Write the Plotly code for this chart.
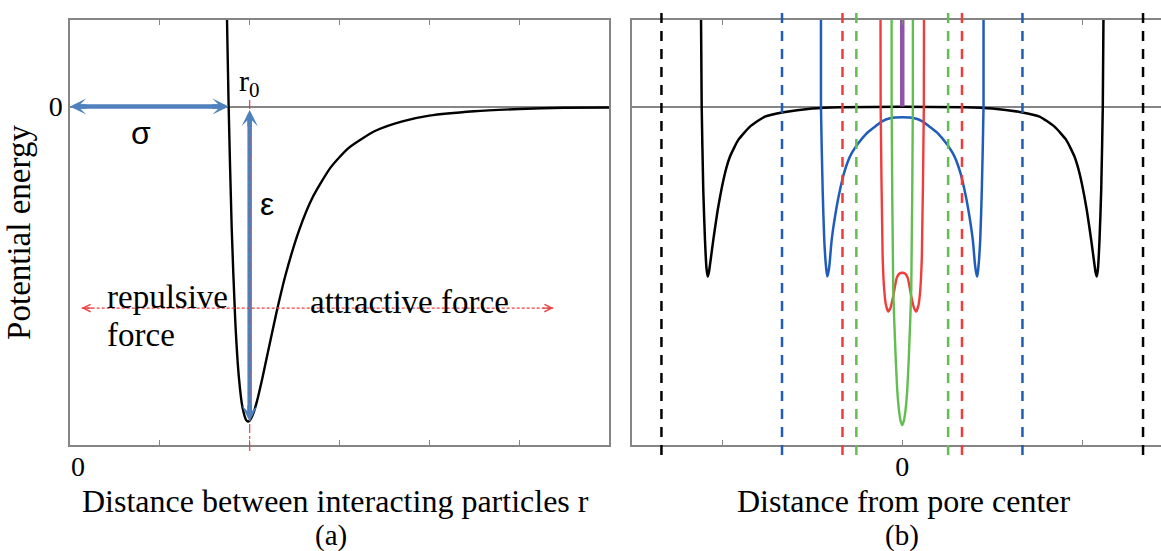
import plotly.graph_objects as go

W, H = 1161, 551

# ---------------- Panel (a): pair potential ----------------
r_a = [1.70, 1.74, 1.766, 1.80, 1.84, 1.88, 1.92, 1.96, 1.98, 2.00, 2.04, 2.08, 2.14,
       2.20, 2.30, 2.40, 2.55, 2.70, 2.90, 3.10, 3.40, 3.70, 4.00, 4.50, 5.00, 5.50, 6.00]
v_a = [1.290, 0.407, 0.0, -0.386, -0.683, -0.860, -0.955, -0.995, -1.000, -0.997, -0.975,
       -0.937, -0.864, -0.784, -0.652, -0.534, -0.393, -0.289, -0.194, -0.132, -0.077,
       -0.047, -0.029, -0.015, -0.008, -0.004, -0.003]

sigma_r = 1.766      # zero crossing
r0 = 2.0             # minimum position
eps_depth = -1.0     # well depth
force_y = -0.64      # level of the force arrow
force_x = [0.13, 5.38]

# ---------------- Panel (b): potentials in pores of different width ----------------
x_black = [-1.119, -1.1144, -1.1056, -1.0961, -1.0875, -1.0811, -1.0740, -1.0683, -1.050,
           -1.0222, -0.985, -0.957, -0.911, -0.846, -0.763, -0.66, -0.50, -0.346, 0.0,
           0.346, 0.50, 0.66, 0.763, 0.846, 0.911, 0.957, 0.985, 1.0222, 1.050, 1.0683,
           1.0740, 1.0811, 1.0875, 1.0961, 1.1056, 1.1144, 1.119]
y_black = [0.35, 0.0, -0.265, -0.424, -0.515, -0.540, -0.525, -0.503, -0.424,
           -0.318, -0.212, -0.159, -0.106, -0.064, -0.032, -0.018, -0.006, -0.002, -0.001,
           -0.002, -0.006, -0.018, -0.032, -0.064, -0.106, -0.159, -0.212, -0.318, -0.424, -0.503,
           -0.525, -0.540, -0.515, -0.424, -0.265, 0.0, 0.35]

x_blue = [-0.4517, -0.4517, -0.4422, -0.4333, -0.4225, -0.4167, -0.4100, -0.4044, -0.3922,
          -0.3644, -0.3461, -0.3239, -0.2906, -0.2444, -0.1978, -0.1517, -0.1144, -0.0683, 0.0,
          0.0683, 0.1144, 0.1517, 0.1978, 0.2444, 0.2906, 0.3239, 0.3461, 0.3644,
          0.3922, 0.4044, 0.4100, 0.4167, 0.4225, 0.4333, 0.4422, 0.4517, 0.4517]
y_blue = [0.35, 0.0, -0.265, -0.424, -0.515, -0.540, -0.525, -0.503, -0.424,
          -0.318, -0.265, -0.212, -0.159, -0.117, -0.085, -0.064, -0.048, -0.0375, -0.0343,
          -0.0375, -0.048, -0.064, -0.085, -0.117, -0.159, -0.212, -0.265, -0.318,
          -0.424, -0.503, -0.525, -0.540, -0.515, -0.424, -0.265, 0.0, 0.35]

x_red = [-0.121, -0.120, -0.1089, -0.100, -0.0906, -0.0778, -0.0656, -0.050, -0.031, -0.017, 0.0,
         0.017, 0.031, 0.050, 0.0656, 0.0778, 0.0906, 0.100, 0.1089, 0.120, 0.121]
y_red = [0.35, 0.0, -0.477, -0.583, -0.630, -0.651, -0.640, -0.602, -0.545, -0.531, -0.528,
         -0.531, -0.545, -0.602, -0.640, -0.651, -0.630, -0.583, -0.477, 0.0, 0.35]

x_green = [-0.0593, -0.0589, -0.050, -0.0367, -0.0278, -0.0183, -0.009, 0.0,
           0.009, 0.0183, 0.0278, 0.0367, 0.050, 0.0589, 0.0593]
y_green = [0.35, 0.0, -0.583, -0.794, -0.900, -0.963, -0.998, -1.011,
           -0.998, -0.963, -0.900, -0.794, -0.583, 0.0, 0.35]

x_purple = [0.0, 0.0]
y_purple = [0.35, 0.0]

# pore wall positions (dashed lines), one pair per pore
walls_black = [-1.338, 1.338]
walls_blue = [-0.668, 0.668]
walls_red = [-0.332, 0.332]
walls_green = [-0.255, 0.255]

# tick positions and labels
ticks_a = [0, 1, 2, 3, 4, 5]
ticklabels_a = ['0', '', '', '', '', '']
ticks_b = [-1, 0, 1]
ticklabels_b = ['', '0', '']

# ---------------- styles ----------------
C_AX = '#858585'
C_BLUE_ARROW = '#4F81BD'
C_RED_ANN = 'rgb(236,64,64)'
C_BLACK = 'black'
C_BLUE = 'rgb(32,92,186)'
C_RED = 'rgb(240,60,60)'
C_GREEN = 'rgb(98,190,80)'
C_PURPLE = 'rgb(142,84,170)'
SERIF = 'Liberation Serif'
SANS = 'Liberation Sans'

fig = go.Figure()

fig.add_trace(go.Scatter(x=r_a, y=v_a, mode='lines', xaxis='x', yaxis='y',
                         line=dict(color=C_BLACK, width=2.4, shape='spline', smoothing=0.6),
                         showlegend=False, hoverinfo='skip'))

for xs, ys, col, w in [(x_black, y_black, C_BLACK, 2.5), (x_blue, y_blue, C_BLUE, 2.5),
                       (x_red, y_red, C_RED, 2.4), (x_green, y_green, C_GREEN, 2.4)]:
    fig.add_trace(go.Scatter(x=xs, y=ys, mode='lines', xaxis='x2', yaxis='y2',
                             line=dict(color=col, width=w, shape='spline', smoothing=0.5),
                             showlegend=False, hoverinfo='skip'))
fig.add_trace(go.Scatter(x=x_purple, y=y_purple, mode='lines', xaxis='x2', yaxis='y2',
                         line=dict(color=C_PURPLE, width=4.5), showlegend=False, hoverinfo='skip'))

shapes = []
# blue sigma and epsilon arrow shafts
shapes.append(dict(type='line', xref='x', yref='y', x0=0.06, x1=sigma_r - 0.06, y0=0, y1=0,
                   line=dict(color=C_BLUE_ARROW, width=4.5)))
shapes.append(dict(type='line', xref='x', yref='y', x0=r0, x1=r0, y0=-0.035, y1=eps_depth + 0.02,
                   line=dict(color=C_BLUE_ARROW, width=4.5)))
# red dash-dot line at r0
shapes.append(dict(type='line', xref='x', yref='paper', x0=r0, x1=r0, y0=1 - 100 / H, y1=1 - 452 / H,
                   line=dict(color=C_RED_ANN, width=1.2, dash='dashdot')))
# red dotted force arrow shaft
shapes.append(dict(type='line', xref='x', yref='y', x0=force_x[0], x1=force_x[1], y0=force_y, y1=force_y,
                   line=dict(color=C_RED_ANN, width=1.2, dash='3px,2px')))
# pore walls
for walls, col in [(walls_black, C_BLACK), (walls_blue, C_BLUE), (walls_red, C_RED), (walls_green, C_GREEN)]:
    for xw in walls:
        shapes.append(dict(type='line', xref='x2', yref='paper', x0=xw, x1=xw,
                           y0=1 - 13 / H, y1=1 - 460 / H,
                           line=dict(color=col, width=2.5, dash='10px,8px')))

ann = []
def head(x, y, ax, ay, color, width, style, size):
    ann.append(dict(x=x, y=y, xref='x', yref='y', ax=ax, ay=ay, text='', showarrow=True,
                    arrowhead=style, arrowsize=size, arrowwidth=width, arrowcolor=color))

head(0, 0, 18, 0, C_BLUE_ARROW, 4.5, 3, 0.6)
head(sigma_r, 0, -18, 0, C_BLUE_ARROW, 4.5, 3, 0.6)
head(r0, -0.011, 0, 18, C_BLUE_ARROW, 4.5, 3, 0.6)
head(r0, eps_depth, 0, -18, C_BLUE_ARROW, 4.5, 3, 0.6)
head(force_x[0], force_y, 12, 0, C_RED_ANN, 1.2, 5, 1.2)
head(force_x[1], force_y, -12, 0, C_RED_ANN, 1.2, 5, 1.2)

def label(x, y, text, font, size, xanchor='center', xref='x', yref='y'):
    ann.append(dict(x=x, y=y, xref=xref, yref=yref, text=text, showarrow=False,
                    xanchor=xanchor, yanchor='middle',
                    font=dict(family=font, size=size, color='black')))

label(0.79, -0.084, 'σ', SANS, 32)
label(2.19, -0.31, 'ε', SANS, 32)
label(2.0, 0.074, 'r<sub>0</sub>', SERIF, 30)
label(0.39, -0.605, 'repulsive', SERIF, 33, 'left')
label(0.39, -0.725, 'force', SERIF, 33, 'left')
label(2.65, -0.62, 'attractive force', SERIF, 33, 'left')
# axis titles and panel letters
label(335 / W, 1 - 501 / H, 'Distance between interacting particles r', SERIF, 32, 'center', 'paper', 'paper')
label(904 / W, 1 - 501 / H, 'Distance from pore center', SERIF, 32, 'center', 'paper', 'paper')
label(331 / W, 1 - 535 / H, '(a)', SERIF, 29, 'center', 'paper', 'paper')
label(902 / W, 1 - 535 / H, '(b)', SERIF, 29, 'center', 'paper', 'paper')

YDOM = [1 - 445 / H, 1 - 20 / H]
YRANGE = [-1.0746, 0.2746]
tickfont = dict(family=SERIF, size=28, color='black')
titlefont = dict(family=SERIF, size=33, color='black')

fig.update_layout(
    width=W, height=H, autosize=False,
    margin=dict(l=0, r=0, t=0, b=0),
    paper_bgcolor='white', plot_bgcolor='white',
    showlegend=False,
    xaxis=dict(domain=[70 / W, 609 / W], range=[0, 6], anchor='y',
               tickvals=ticks_a, ticktext=ticklabels_a,
               ticks='inside', ticklen=5, tickwidth=1.3, tickcolor=C_AX,
               showline=True, linecolor=C_AX, linewidth=1.5, mirror='ticks',
               showgrid=False, zeroline=False, tickfont=tickfont, ticklabelshift=8,
               ticklabelstandoff=-4),
    yaxis=dict(domain=YDOM, range=YRANGE, anchor='x',
               tickvals=[0], ticktext=['0'], ticks='',
               showline=True, linecolor=C_AX, linewidth=1.5, mirror=True,
               showgrid=False, zeroline=True, zerolinecolor=C_AX, zerolinewidth=1.5,
               tickfont=tickfont,
               title=dict(text='Potential energy', font=titlefont, standoff=8)),
    xaxis2=dict(domain=[632.4 / W, 1.0], range=[-1.4994, 1.4378], anchor='y2',
                tickvals=ticks_b, ticktext=ticklabels_b,
                ticks='inside', ticklen=5, tickwidth=1.3, tickcolor=C_AX,
                showline=True, linecolor=C_AX, linewidth=1.5, mirror='ticks',
                showgrid=False, zeroline=False, tickfont=tickfont, ticklabelstandoff=-4),
    yaxis2=dict(domain=YDOM, range=YRANGE, anchor='x2',
                showticklabels=False, ticks='',
                showline=True, linecolor=C_AX, linewidth=1.5, mirror=False,
                showgrid=False, zeroline=True, zerolinecolor=C_AX, zerolinewidth=1.5),
    shapes=shapes,
    annotations=ann,
)

fig.write_html('out.html', config={'displayModeBar': False},
               post_script="document.body.style.margin='0px';document.body.style.overflow='hidden';")
